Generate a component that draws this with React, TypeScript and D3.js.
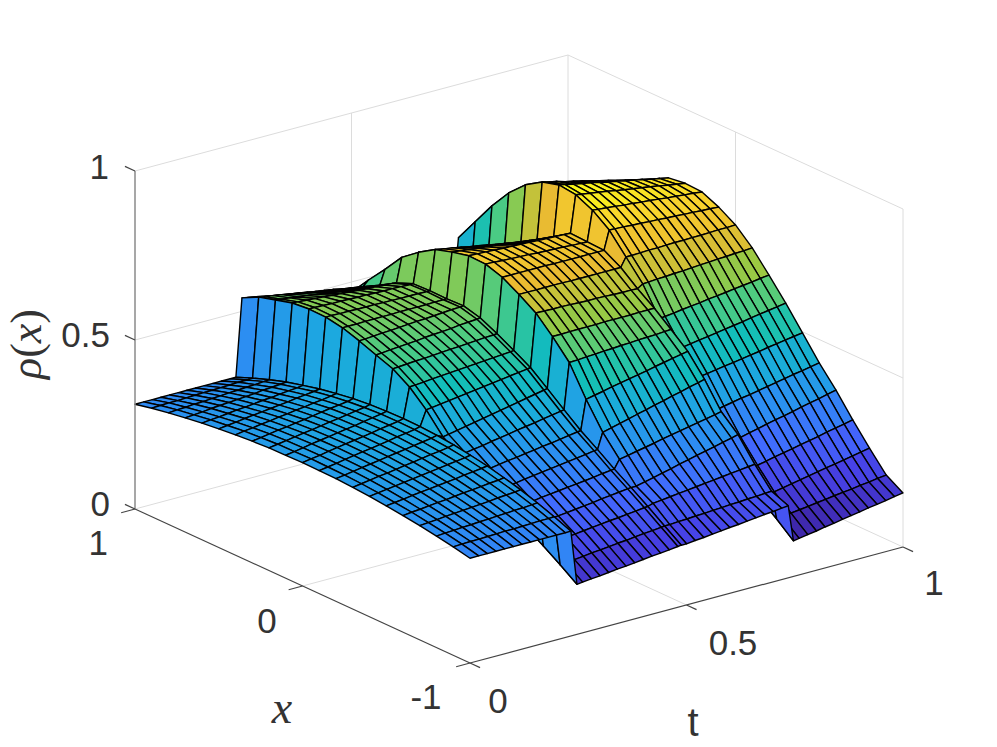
// App.tsx - surface plot of rho(x) over x and t
import React from "react";
import * as d3 from "d3";

const W = 997, H = 747;

// x nodes, one per column of the rho tables below
const xNodes = [1, 0.9, 0.8, 0.7, 0.6, 0.5, 0.4, 0.3, 0.2, 0.1, 0, -0.1, -0.2, -0.3, -0.4, -0.5, -0.6, -0.7, -0.8, -0.9, -1];

const tA = [0, 0.02, 0.04, 0.06, 0.08, 0.1, 0.12, 0.14, 0.16, 0.18, 0.2, 0.22, 0.233];
const tB = [0.247, 0.26, 0.28, 0.3, 0.32, 0.34, 0.36, 0.38, 0.4, 0.42, 0.44, 0.46, 0.48, 0.488];
const tC = [0.5, 0.52, 0.54, 0.56, 0.58, 0.6, 0.62, 0.64, 0.66, 0.68, 0.7, 0.72, 0.735];
const tD = [0.747, 0.76, 0.78, 0.8, 0.82, 0.84, 0.86, 0.88, 0.9, 0.92, 0.94, 0.96, 0.98, 1];

// rho * 1000, one row per t node
const rhoA = [
  [310,321,330,338,345,351,356,360,363,364,365,364,363,360,356,351,345,338,330,321,310],
  [310,322,332,340,348,354,360,364,367,368,369,368,367,364,360,354,348,340,332,322,310],
  [310,323,333,342,350,357,363,368,371,372,373,372,371,368,363,357,350,342,333,323,310],
  [310,323,335,345,353,361,367,372,375,377,378,377,375,372,367,361,353,345,335,323,310],
  [310,324,336,347,356,364,370,375,379,381,382,381,379,375,370,364,356,347,336,324,310],
  [310,325,338,349,358,367,374,379,383,385,386,385,383,379,374,367,358,349,338,325,310],
  [310,326,339,351,361,370,377,383,387,389,390,389,387,383,377,370,361,351,339,326,310],
  [310,326,341,353,364,373,381,387,391,393,394,393,391,387,381,373,364,353,341,326,310],
  [310,327,342,355,366,376,384,391,395,397,398,397,395,391,384,376,366,355,342,327,310],
  [310,328,344,358,369,380,388,395,399,402,403,402,399,395,388,380,369,358,344,328,310],
  [310,329,345,360,372,383,391,398,403,406,407,406,403,398,391,383,372,360,345,329,310],
  [310,329,347,362,374,386,395,402,407,410,411,410,407,402,395,386,374,362,347,329,310],
  [310,330,348,364,377,389,398,406,411,414,415,414,411,406,398,389,377,364,348,330,310],
];
const rhoB = [
  [540,565,579,593,598,597,588,572,553,535,504,459,402,370,338,307,277,246,216,183,148],
  [537,562,577,592,598,597,588,573,554,536,505,461,405,373,340,309,279,248,218,185,150],
  [532,558,574,590,597,596,588,575,557,538,507,465,410,377,344,313,282,251,221,187,153],
  [526,554,570,588,596,596,589,577,559,540,510,468,415,381,348,316,285,254,223,190,155],
  [521,549,567,586,596,595,589,578,561,541,512,472,420,386,352,320,289,257,226,193,158],
  [516,545,564,584,595,595,589,580,563,543,514,475,425,390,355,324,292,260,229,195,161],
  [511,541,561,582,594,595,589,582,566,545,516,479,430,394,359,327,295,263,232,198,163],
  [506,536,557,580,594,594,590,584,568,547,518,482,435,399,363,331,298,266,235,201,166],
  [501,532,554,578,593,594,590,585,570,548,520,486,440,403,367,334,301,269,238,203,169],
  [495,528,551,576,592,593,590,587,572,550,522,489,445,407,370,338,304,273,240,206,172],
  [490,523,548,575,592,593,590,589,575,552,524,493,450,412,374,341,307,276,243,209,174],
  [485,519,545,573,591,593,591,591,577,554,526,496,455,416,378,345,311,279,246,211,177],
  [480,515,541,571,590,592,591,592,579,555,528,500,460,420,382,349,314,282,249,214,180],
  [478,513,540,570,590,592,591,593,580,556,529,501,462,422,383,350,315,283,250,215,181],
];
const rhoC = [
  [470,528,583,641,679,710,725,737,735,719,691,659,612,558,472,397,340,283,255,215,181],
  [462,520,575,633,672,705,722,736,734,719,691,658,612,559,477,403,345,289,258,217,184],
  [455,511,566,625,666,701,719,735,732,719,691,657,613,561,482,410,350,295,261,218,186],
  [447,503,558,617,659,696,716,733,731,719,691,657,613,562,488,416,355,301,264,220,189],
  [439,495,550,608,652,691,713,732,730,719,691,656,613,564,493,423,360,307,267,221,192],
  [432,486,541,600,645,687,710,731,729,719,691,655,613,565,498,429,366,314,270,223,195],
  [424,478,533,592,639,682,707,730,727,718,690,654,614,567,503,436,371,320,273,224,197],
  [416,470,525,584,632,677,704,729,726,718,690,654,614,568,508,442,376,326,276,226,200],
  [409,461,516,576,625,673,701,727,725,718,690,653,614,570,514,449,381,332,279,227,203],
  [401,453,508,567,618,668,698,726,724,718,690,652,614,571,519,455,386,338,282,229,206],
  [393,445,500,559,612,663,695,725,722,718,690,651,615,572,524,462,391,344,285,230,208],
  [386,436,491,551,605,659,692,724,721,718,690,651,615,574,529,468,396,350,288,232,211],
  [380,430,485,545,600,655,690,723,720,718,690,650,615,575,533,473,400,355,290,233,213],
];
const rhoD = [
  [546,616,686,747,794,825,839,833,810,774,717,660,580,510,445,370,300,240,185,147,105],
  [542,613,683,743,790,821,836,830,808,773,717,661,582,513,448,373,304,243,188,149,108],
  [536,607,677,737,783,815,830,826,806,772,718,663,585,517,452,378,309,249,193,153,112],
  [530,602,672,731,776,808,825,822,803,770,719,664,589,521,456,383,315,254,198,156,116],
  [524,597,667,725,770,802,820,818,800,769,719,666,592,525,460,388,321,260,203,159,121],
  [518,592,662,719,763,796,815,813,798,767,720,667,595,529,464,392,327,265,208,163,125],
  [512,586,656,713,756,789,809,809,795,766,721,669,599,533,468,397,333,270,213,166,130],
  [506,581,651,706,750,783,804,805,793,764,721,671,602,537,472,402,338,276,218,170,134],
  [500,576,646,700,743,777,799,801,790,763,722,672,605,541,476,407,344,281,223,173,138],
  [494,571,641,694,737,770,794,797,787,761,722,674,609,546,481,412,350,286,227,176,143],
  [488,566,636,688,730,764,789,793,785,760,723,675,612,550,485,417,356,292,232,180,147],
  [482,560,630,682,723,758,783,788,782,758,724,677,615,554,489,421,361,297,237,183,151],
  [476,555,625,676,717,751,778,784,780,757,724,678,619,558,493,426,367,302,242,187,156],
  [470,550,620,670,710,745,773,780,777,755,725,680,622,562,497,431,373,308,247,190,160],
];

const zTicks = [0, 0.5, 1];
const parula = ["#3e26a8", "#4741e5", "#4269fe", "#2d8cf3", "#1ca9df", "#12beb9", "#4acb84", "#9dc942", "#ebbb31", "#f9d52d", "#f9fb15"];

const tNodes = [...tA, ...tB, ...tC, ...tD];
const rho = [...rhoA, ...rhoB, ...rhoC, ...rhoD].map((row) => row.map((v) => v / 1000));

// oblique projection: each axis adds its own screen offset
const xToX = d3.scaleLinear().domain([1, -1]).range([135, 470]);
const xToY = d3.scaleLinear().domain([1, -1]).range([509, 663]);
const tToX = d3.scaleLinear().domain([0, 1]).range([0, 433]);
const tToY = d3.scaleLinear().domain([0, 1]).range([0, -116]);
const zToY = d3.scaleLinear().domain([0, 1]).range([0, -338]);

const project = (x: number, t: number, z: number): [number, number] => [
  xToX(x) + tToX(t),
  xToY(x) + tToY(t) + zToY(z),
];
const line = d3.line();
const seg = (a: [number, number, number], b: [number, number, number]) =>
  line([project(...a), project(...b)]) as string;

const color = d3
  .scaleSequential(d3.piecewise(d3.interpolateRgb, parula))
  .domain(d3.extent(rho.flat()) as [number, number]);

// painter's order for a height field: far t first, far x first
const cells: { d: string; fill: string }[] = [];
for (let j = tNodes.length - 2; j >= 0; j--) {
  for (let k = 0; k < xNodes.length - 1; k++) {
    const pts = [
      project(xNodes[k], tNodes[j], rho[j][k]),
      project(xNodes[k + 1], tNodes[j], rho[j][k + 1]),
      project(xNodes[k + 1], tNodes[j + 1], rho[j + 1][k + 1]),
      project(xNodes[k], tNodes[j + 1], rho[j + 1][k]),
    ];
    cells.push({ d: line(pts) + "Z", fill: color(rho[j][k + 1]) });
  }
}

const grid = [
  ...zTicks.flatMap((z) => [seg([1, 0, z], [1, 1, z]), seg([1, 1, z], [-1, 1, z])]),
  seg([1, 0.5, 0], [1, 0.5, 1]),
  seg([0, 1, 0], [0, 1, 1]),
  seg([1, 1, 0], [1, 1, 1]),
  seg([-1, 1, 0], [-1, 1, 1]),
  seg([0, 0, 0], [0, 1, 0]),
  seg([1, 0.5, 0], [-1, 0.5, 0]),
];

const ticks = [
  ...zTicks.map((z) => seg([1, 0, z], [1.06, 0, z])),
  ...[1, 0, -1].map((x) => seg([x, 0, 0], [x, -0.032, 0])),
  ...[0, 0.5, 1].map((t) => seg([-1, t, 0], [-1.06, t, 0])),
];

const labels: [string, number, number, string][] = [
  ["1", 109, 166, "end"],
  ["0.5", 110, 334, "end"],
  ["0", 110, 503, "end"],
  ["1", 108, 542, "end"],
  ["0", 267, 620, "middle"],
  ["-1", 426, 696, "middle"],
  ["0", 498, 700, "middle"],
  ["0.5", 733, 642, "middle"],
  ["1", 934, 582, "middle"],
];

export default function App() {
  return (
    <svg width={W} height={H} style={{ position: "absolute", left: 0, top: 0, background: "#fff" }}>
      <g fill="none" stroke="#dcdcdc" strokeWidth={1}>
        {grid.map((d, i) => <path key={i} d={d} />)}
      </g>
      <g stroke="#000" strokeWidth={1.4} strokeLinejoin="round">
        {cells.map((c, i) => <path key={i} d={c.d} fill={c.fill} />)}
      </g>
      <g fill="none" stroke="#444" strokeWidth={1.2}>
        <path d={seg([1, 0, 0], [-1, 0, 0])} />
        <path d={seg([-1, 0, 0], [-1, 1, 0])} />
        <path d={seg([1, 0, 0], [1, 0, 1])} stroke="#8a8a8a" strokeWidth={1.5} />
        {ticks.map((d, i) => <path key={i} d={d} />)}
      </g>
      <g fontFamily="'Liberation Sans', Arial, sans-serif" fontSize={35} fill="#333">
        {labels.map(([s, x, y, anchor], i) => (
          <text key={i} x={x} y={y} textAnchor={anchor as any} dominantBaseline="central">{s}</text>
        ))}
        <text x={693} y={722} fontSize={40} textAnchor="middle" dominantBaseline="central">t</text>
      </g>
      <g fontFamily="'Liberation Serif', serif" fill="#333">
        <text x={282} y={723} fontSize={46} fontStyle="italic" textAnchor="middle">x</text>
        <text transform="translate(41,344) rotate(-90)" fontSize={44} textAnchor="middle">
          <tspan fontStyle="italic">ρ</tspan>(<tspan fontStyle="italic">x</tspan>)
        </text>
      </g>
    </svg>
  );
}
